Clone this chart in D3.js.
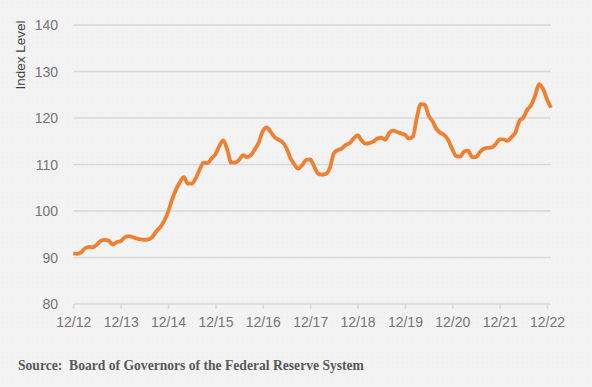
<!DOCTYPE html>
<html>
<head>
<meta charset="utf-8">
<script src="https://cdn.jsdelivr.net/npm/d3@7"></script>
<style>
  body { margin: 0; background: #f3f3f3; }
  svg { display: block; }
</style>
</head>
<body>
<div id="chart"></div>
<script>
// monthly index level, 12/2012 .. 01/2023
var indexValues = [
  90.9, 90.8, 91.1, 92.0, 92.3, 92.2, 92.8, 93.6, 93.8, 93.6, 92.8, 93.3,
  93.5, 94.3, 94.6, 94.4, 94.1, 93.9, 93.8, 93.9, 94.4, 95.6, 96.5, 97.8,
  99.8, 102.4, 104.6, 106.2, 107.3, 105.9, 105.9, 107.0, 108.9, 110.4, 110.3, 111.3,
  112.2, 114.0, 115.2, 113.2, 110.4, 110.4, 111.0, 112.0, 111.6, 112.0, 113.3, 114.8,
  117.2, 118.0, 117.0, 115.9, 115.3, 114.8, 113.5, 111.4, 110.0, 109.1, 109.9, 111.0,
  111.1, 109.6, 108.0, 107.8, 108.0, 109.3, 112.4, 113.1, 113.4, 114.2, 114.6, 115.6,
  116.3, 115.2, 114.5, 114.6, 114.9, 115.6, 115.8, 115.3, 116.8, 117.3, 117.0, 116.7,
  116.4, 115.6, 116.0, 120.0, 123.0, 122.9, 120.5, 119.3, 117.6, 116.8, 116.3, 115.2,
  113.3, 111.8, 111.7, 112.8, 113.0, 111.6, 111.6, 112.7, 113.4, 113.6, 113.7, 114.4,
  115.4, 115.4, 115.1, 115.9, 116.9, 119.4, 120.1, 121.8, 122.8, 124.9, 127.3, 126.2,
  124.0, 122.2
];
var tickMonths = [0, 12, 24, 36, 48, 60, 72, 84, 96, 108, 120];
var tickLabels = ["12/12", "12/13", "12/14", "12/15", "12/16", "12/17",
                  "12/18", "12/19", "12/20", "12/21", "12/22"];
var yTicks = [80, 90, 100, 110, 120, 130, 140];

var width = 592, height = 387;
var plotLeft = 73.3, plotRight = 551, plotTop = 25, plotBottom = 304;

var svg = d3.select("#chart").append("svg")
    .attr("width", width)
    .attr("height", height);

// faint dotted background
var defs = svg.append("defs");
var pat = defs.append("pattern")
    .attr("id", "dots")
    .attr("width", 5).attr("height", 5)
    .attr("patternUnits", "userSpaceOnUse");
pat.append("rect").attr("width", 5).attr("height", 5).attr("fill", "#f3f3f3");
pat.append("rect").attr("x", 2).attr("y", 2).attr("width", 1).attr("height", 1).attr("fill", "#ececec");
svg.append("rect").attr("width", width).attr("height", height).attr("fill", "url(#dots)");

var x = d3.scaleLinear().domain([0, indexValues.length - 1]).range([plotLeft, plotRight]);
var y = d3.scaleLinear().domain([80, 140]).range([plotBottom, plotTop]);

// gridlines
svg.append("g")
  .selectAll("line")
  .data(yTicks.slice(1))
  .enter().append("line")
    .attr("x1", plotLeft).attr("x2", plotRight)
    .attr("y1", function(d) { return y(d); })
    .attr("y2", function(d) { return y(d); })
    .attr("stroke", "#d9d9d9")
    .attr("stroke-width", 1.5);

// y labels
svg.append("g")
  .selectAll("text")
  .data(yTicks)
  .enter().append("text")
    .attr("x", 58)
    .attr("y", function(d) { return y(d) + 5; })
    .attr("text-anchor", "end")
    .style("font-family", "Liberation Sans, Arial, sans-serif")
    .style("font-size", "14px")
    .style("fill", "#767676")
    .text(function(d) { return d; });

// x axis
var xAxis = d3.axisBottom(x)
    .tickValues(tickMonths)
    .tickSize(5)
    .tickFormat(function(d, i) { return tickLabels[i]; });
var gx = svg.append("g")
    .attr("transform", "translate(0," + plotBottom + ")")
    .call(xAxis);
gx.select(".domain").attr("stroke", "#d9d9d9").attr("stroke-width", 1.5)
    .attr("d", "M" + plotLeft + ",0H" + plotRight);
gx.selectAll(".tick line").attr("stroke", "#d9d9d9").attr("stroke-width", 1.5);
gx.selectAll(".tick text")
    .attr("y", 13)
    .attr("dy", "0.71em")
    .style("font-family", "Liberation Sans, Arial, sans-serif")
    .style("font-size", "14px")
    .style("fill", "#767676");

// the series
var line = d3.line()
    .x(function(d, i) { return x(i); })
    .y(function(d) { return y(d); })
    .curve(d3.curveMonotoneX);
svg.append("path")
    .datum(indexValues)
    .attr("d", line)
    .attr("fill", "none")
    .attr("stroke", "#f07f2f")
    .attr("stroke-width", 3.8)
    .attr("stroke-linejoin", "round");

// axis title
svg.append("text")
    .attr("transform", "translate(25,55) rotate(-90)")
    .attr("text-anchor", "middle")
    .style("font-family", "Liberation Sans, Arial, sans-serif")
    .style("font-size", "13.5px")
    .style("fill", "#404040")
    .text("Index Level");

// source note
svg.append("text")
    .attr("x", 18)
    .attr("y", 370)
    .style("font-family", "Liberation Serif, Times New Roman, serif")
    .style("font-size", "13.6px")
    .style("font-weight", "bold")
    .style("fill", "#595959")
    .style("white-space", "pre")
    .text("Source:  Board of Governors of the Federal Reserve System");
</script>
</body>
</html>
